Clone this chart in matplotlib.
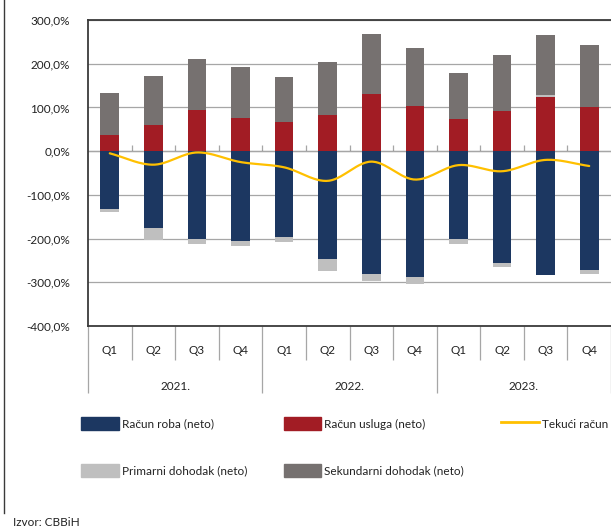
#!/usr/bin/env python3
# -*- coding: utf-8 -*-

import numpy as np
import matplotlib
matplotlib.use("Agg")
import matplotlib.pyplot as plt
from matplotlib.lines import Line2D
from matplotlib.patches import Patch
from matplotlib.transforms import blended_transform_factory

plt.rcParams['font.family'] = ['Lato', 'DejaVu Sans']
plt.rcParams['font.size'] = 8.5

# ---------------- data (% ) ----------------
quarters = ['Q1', 'Q2', 'Q3', 'Q4'] * 3
years = ['2021.', '2022.', '2023.']
racun_roba = [-132, -175, -200, -206, -197, -247, -280, -289, -200, -257, -284, -273]
racun_usluga = [37, 60, 95, 76, 66, 82, 130, 104, 73, 91, 124, 101]
primarni = [-7, -28, -13, -10, -10, -27, -17, -14, -13, -7, 5, -7]
sekundarni = [96, 112, 116, 116, 103, 123, 139, 133, 106, 130, 137, 142]
tekuci = [-5, -31, -3, -25, -37, -68, -24, -65, -32, -46, -20, -34]
y_ticks = [300, 200, 100, 0, -100, -200, -300, -400]

c_roba = '#1c3761'
c_usluga = '#a21c24'
c_prim = '#bfbfbf'
c_sek = '#767170'
c_line = '#ffc000'
c_grid = '#a6a6a6'
c_frame = '#3a3a3a'


def smooth(xs, ys, n=30):
    # Catmull-Rom spline, like Excel's smoothed line
    xs = np.asarray(xs, float)
    ys = np.asarray(ys, float)
    px = np.concatenate([[2 * xs[0] - xs[1]], xs, [2 * xs[-1] - xs[-2]]])
    py = np.concatenate([[2 * ys[0] - ys[1]], ys, [2 * ys[-1] - ys[-2]]])
    out_x, out_y = [], []
    t = np.linspace(0, 1, n)
    for i in range(1, len(px) - 2):
        for p, o in ((px, out_x), (py, out_y)):
            p0, p1, p2, p3 = p[i - 1], p[i], p[i + 1], p[i + 2]
            o.extend(0.5 * (2 * p1 + (-p0 + p2) * t
                            + (2 * p0 - 5 * p1 + 4 * p2 - p3) * t ** 2
                            + (-p0 + 3 * p1 - 3 * p2 + p3) * t ** 3))
    return out_x, out_y


fig = plt.figure(figsize=(6.11, 5.28), dpi=100)
ax = fig.add_axes([88 / 611, 1 - 326 / 528, 1 - 88 / 611, 306 / 528])

x = np.arange(len(quarters))
w = 0.43

# stacking: positives above zero, negatives below, in series order
pos_bottom = np.zeros(len(x))
neg_bottom = np.zeros(len(x))
for vals, col in ((racun_roba, c_roba), (racun_usluga, c_usluga),
                  (primarni, c_prim), (sekundarni, c_sek)):
    vals = np.asarray(vals, float)
    bottom = np.where(vals >= 0, pos_bottom, neg_bottom)
    ax.bar(x, vals, w, bottom=bottom, color=col, zorder=3, linewidth=0)
    pos_bottom += np.where(vals >= 0, vals, 0)
    neg_bottom += np.where(vals < 0, vals, 0)

sx, sy = smooth(x, tekuci)
ax.plot(sx, sy, color=c_line, lw=1.6, zorder=4, solid_capstyle='round')

ax.set_xlim(-0.5, len(x) - 0.5)
ax.set_ylim(-400, 300)
ax.set_yticks(y_ticks)
ax.set_yticklabels([f"{v:.1f}%".replace('.', ',') for v in y_ticks])
ax.tick_params(axis='y', length=0, pad=13, labelcolor='#222222')
ax.grid(axis='y', color=c_grid, lw=0.9, zorder=0)

for s in ('left', 'top', 'bottom'):
    ax.spines[s].set_color(c_frame)
    ax.spines[s].set_linewidth(1.3)
ax.spines['right'].set_visible(False)

# category axis at the bottom: long ticks as separators
bounds = np.arange(-0.5, len(x), 1.0)
ax.set_xticks(bounds[::4])
ax.set_xticks([b for i, b in enumerate(bounds) if i % 4], minor=True)
ax.tick_params(axis='x', which='major', length=48, color=c_grid, width=0.9,
               labelbottom=False)
ax.tick_params(axis='x', which='minor', length=24.5, color=c_grid, width=0.9)

trans = blended_transform_factory(ax.transData, fig.transFigure)
for xi, q in zip(x, quarters):
    ax.text(xi, 1 - 350 / 528, q, transform=trans, ha='center', va='center',
            color='#222222')
for i, yr in enumerate(years):
    ax.text(np.mean(x[i * 4:i * 4 + 4]), 1 - 387 / 528, yr, transform=trans,
            ha='center', va='center', color='#222222')

# small ticks on the zero line
zero_pos = (0 - (-400)) / (300 - (-400))
sec = ax.secondary_xaxis(zero_pos)
sec.set_xticks(bounds[1:-1])
sec.set_xticklabels([])
sec.tick_params(length=4, color=c_grid, width=0.9, direction='out')
sec.spines['bottom'].set_color(c_grid)
sec.spines['bottom'].set_linewidth(0.9)

# legend
handles = [Patch(color=c_roba, label='Račun roba (neto)'),
           Patch(color=c_prim, label='Primarni dohodak (neto)'),
           Patch(color=c_usluga, label='Račun usluga (neto)'),
           Patch(color=c_sek, label='Sekundarni dohodak (neto)'),
           Line2D([], [], color=c_line, lw=2, label='Tekući račun')]
fig.legend(handles=handles, ncol=3, loc='upper left',
           bbox_to_anchor=(81 / 611, 1 - 417 / 528), frameon=False,
           borderpad=0, borderaxespad=0, handlelength=3.2, handleheight=1.36,
           handletextpad=0.25, columnspacing=3.1, labelspacing=2.85,
           fontsize=8.5, labelcolor='#222222')

fig.text(13 / 611, 1 - 522 / 528, 'Izvor: CBBiH', ha='left', va='center',
         color='#222222')
fig.add_artist(Line2D([4 / 611, 4 / 611], [1, 1 - 513 / 528],
                      transform=fig.transFigure, color=c_frame, lw=1.0))

fig.savefig('out.png', dpi=100)
